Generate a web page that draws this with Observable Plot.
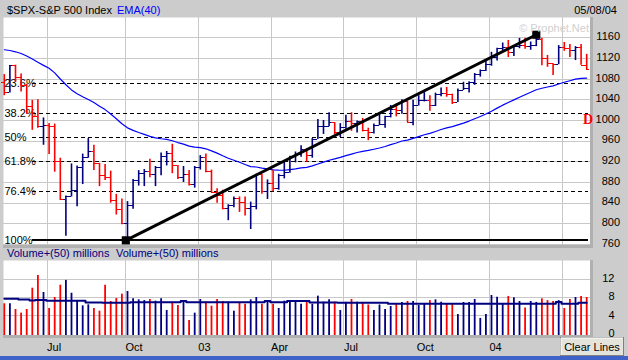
<!DOCTYPE html>
<html><head><meta charset="utf-8">
<script src="https://cdn.jsdelivr.net/npm/d3@7"></script>
<script src="https://cdn.jsdelivr.net/npm/@observablehq/plot@0.6"></script>
<style>
html,body{margin:0;padding:0;background:#cccccc;}
#wrap{position:relative;width:628px;height:360px;overflow:hidden;background:#cccccc;font-family:"Liberation Sans",Arial,sans-serif;}
#price,#vol,#over{position:absolute;left:0;}
#price{top:0;}
#vol{top:245px;}
#over{top:0;pointer-events:none;}
</style></head><body><div id="wrap"><div id="price"></div><div id="vol"></div>
<svg id="over" width="628" height="360" font-family="Liberation Sans, Arial, sans-serif" font-size="11">
<rect x="590" y="17" width="3" height="231" fill="#b0b0b0"/>
<rect x="3" y="245" width="590" height="3" fill="#b0b0b0"/>
<rect x="590" y="260" width="3" height="78" fill="#b0b0b0"/>
<rect x="3" y="335" width="590" height="3" fill="#b0b0b0"/>
<rect x="0" y="356" width="628" height="4" fill="#3f62c8"/>
<text x="7" y="14" fill="black">$SPX-S&amp;P 500 Index</text>
<text x="117" y="14" fill="#0000ff">EMA(40)</text>
<text x="617" y="14" text-anchor="end" fill="black">05/08/04</text>
<text x="589" y="32" text-anchor="end" fill="#d0d0d0">© Prophet.Net</text>
<text x="583" y="124" font-family="Liberation Serif, Times New Roman, serif" font-weight="bold" font-size="14" fill="#ff0000">D</text>
<text x="7" y="257" fill="#000080">Volume+(50) millions</text>
<text x="116" y="257" fill="#000080">Volume+(50) millions</text>
<rect x="560.5" y="337.5" width="63" height="18" fill="#e4e4dc" stroke="#808080"/>
<line x1="561" y1="338" x2="623" y2="338" stroke="white"/>
<line x1="561" y1="338" x2="561" y2="355" stroke="white"/>
<text x="592" y="351" text-anchor="middle" fill="black">Clear Lines</text>
</svg>
</div>
<script>
// ---- data (weekly bars, week index 0 = week of 2002-05-06) ----
const quarterStarts = [8, 22, 35, 48, 61, 74, 87, 100];
// the label of the last quarter line is hidden behind the "Clear Lines" button
const quarterLabels = ["Jul", "Oct", "03", "Apr", "Jul", "Oct", "04"];
const priceTicks = [760, 800, 840, 880, 920, 960, 1000, 1040, 1080, 1120, 1160];
const volTicks = [0, 4, 8, 12];
const volGrid = [4, 8, 12];

const open = [
1073.4,1055.0,1106.6,1083.8,1067.1,1027.5,1007.3,989.1,989.8,989.0,
921.4,847.8,852.8,864.2,908.6,928.8,940.9,916.1,893.9,889.8,
845.4,827.4,800.6,835.3,884.4,897.7,901.0,894.7,909.8,930.6,
936.3,912.2,889.5,895.8,875.4,908.6,927.6,901.8,861.4,855.7,
829.7,834.9,848.2,841.2,828.9,833.3,895.8,863.5,878.9,868.3,
893.6,898.8,930.1,933.4,944.3,933.2,963.6,987.8,988.6,995.7,
976.2,985.7,998.1,993.3,998.7,980.2,977.6,990.7,993.1,1008.0,
1021.4,1018.6,1036.3,996.9,1029.9,1038.1,1039.3,1028.9,1050.7,1053.2,
1050.4,1035.3,1058.2,1061.5,1074.1,1088.7,1095.9,1108.5,1121.9,1139.8,
1141.6,1131.1,1142.8,1145.8,1144.1,1144.9,1156.9,1120.6,1109.8,1108.1,
1141.8,1139.3,1134.6,1140.6,1107.3];
const high = [
1088.9,1106.6,1107.0,1090.0,1070.0,1039.0,1040.0,1005.0,994.0,993.0,
927.0,854.0,916.0,912.0,935.0,965.0,952.0,917.0,915.0,902.0,
857.0,848.0,843.0,886.0,903.0,905.0,925.0,911.0,937.0,940.0,
954.0,913.0,911.0,903.0,911.0,932.0,935.0,904.0,868.0,865.0,
837.0,852.0,852.0,852.0,842.0,896.0,896.0,885.0,904.0,896.0,
922.0,931.0,939.0,951.0,945.0,965.0,1002.0,1000.0,1015.0,996.0,
994.0,1010.0,1015.0,999.0,1004.0,985.0,993.0,1011.0,1008.0,1029.0,
1032.0,1040.0,1037.0,1039.0,1048.0,1054.0,1048.0,1053.0,1063.0,1064.0,
1051.0,1061.0,1074.0,1075.0,1091.0,1098.0,1118.0,1132.0,1140.0,1150.0,
1155.0,1143.0,1159.0,1159.0,1152.0,1163.0,1159.0,1126.0,1110.0,1145.0,
1151.0,1147.0,1143.0,1147.0,1128.0];
const low = [
1048.0,1053.0,1074.0,1055.0,1012.0,981.0,985.0,952.0,934.0,900.0,
845.0,775.7,852.0,833.0,876.0,927.0,903.0,872.0,884.0,840.0,
817.0,798.0,768.6,828.0,873.0,872.0,889.0,872.0,893.0,912.0,
897.0,886.0,880.0,873.0,869.0,904.0,899.0,860.0,840.0,827.0,
806.0,831.0,822.0,815.0,789.0,827.0,857.0,847.0,862.0,865.0,
887.0,898.0,918.0,929.0,919.0,927.0,963.0,973.0,988.0,973.0,
967.0,983.0,979.0,976.0,978.0,961.0,974.0,990.0,985.0,1005.0,
1007.0,1012.0,996.0,990.0,1028.0,1036.0,1018.0,1027.0,1046.0,1045.0,
1031.0,1035.0,1058.0,1053.0,1068.0,1084.0,1095.0,1105.0,1115.0,1133.0,
1122.0,1124.0,1139.0,1138.0,1136.0,1143.0,1106.0,1103.0,1087.0,1108.0,
1134.0,1122.0,1116.0,1107.0,1098.0];
const close = [
1055.0,1106.6,1083.8,1067.1,1027.5,1007.3,989.1,989.8,989.0,921.4,
847.8,852.8,864.2,908.6,928.8,940.9,916.1,893.9,889.8,845.4,
827.4,800.6,835.3,884.4,897.7,901.0,894.7,909.8,930.6,936.3,
912.2,889.5,895.8,875.4,908.6,927.6,901.8,861.4,855.7,829.7,
834.9,848.2,841.2,828.9,833.3,895.8,863.5,878.9,868.3,893.6,
898.8,930.1,933.4,944.3,933.2,963.6,987.8,988.6,995.7,976.2,
985.7,998.1,993.3,998.7,980.2,977.6,990.7,993.1,1008.0,1021.4,
1018.6,1036.3,996.9,1029.9,1038.1,1039.3,1028.9,1050.7,1053.2,1050.4,
1035.3,1058.2,1061.5,1074.1,1088.7,1095.9,1108.5,1121.9,1139.8,1141.6,
1131.1,1142.8,1145.8,1144.1,1144.9,1156.9,1120.6,1109.8,1108.1,1141.8,
1139.3,1134.6,1140.6,1107.3,1098.7];
const ema40 = [
1137.0,1135.5,1133.0,1129.8,1124.8,1119.1,1112.7,1106.7,1101.0,1092.2,
1080.3,1069.2,1059.2,1051.9,1045.9,1040.7,1034.7,1027.8,1021.1,1012.5,
1003.5,993.6,985.8,980.9,976.8,973.1,969.3,966.4,964.7,963.3,
960.8,957.3,954.3,950.4,948.4,947.4,945.2,941.1,936.9,931.7,
927.0,923.1,919.1,914.7,910.7,910.0,907.7,906.3,904.5,903.9,
903.7,905.0,906.3,908.2,909.4,912.1,915.8,919.3,923.0,925.6,
928.6,932.0,935.0,938.1,940.1,942.0,944.3,946.7,949.7,953.2,
956.4,960.3,962.1,965.4,968.9,972.4,975.1,978.8,982.5,985.8,
988.2,991.6,995.0,998.9,1003.3,1007.8,1012.7,1018.0,1024.0,1029.7,
1034.7,1039.9,1045.1,1049.9,1054.6,1059.6,1062.5,1064.8,1067.0,1070.6,
1074.0,1076.9,1080.0,1081.4,1082.2];
const volume = [
6.6,6.6,5.35,4.55,5.35,10.0,12.8,9.06,5.57,7.97,
10.66,11.7,8.9,7.3,6.15,6.37,5.57,4.98,10.66,7.1,
7.75,8.7,9.28,7.68,7.46,7.3,7.53,7.17,7.68,5.13,
6.95,6.22,7.17,2.95,4.55,7.53,6.95,6.07,7.53,7.1,
6.95,4.98,6.73,6.5,7.46,7.97,6.5,6.95,6.5,5.57,
7.17,7.3,7.3,6.5,6.88,6.5,8.26,6.95,7.46,6.95,
5.13,6.9,7.53,6.95,6.9,6.33,5.13,6.33,5.35,6.0,
6.6,6.88,7.1,7.1,6.22,6.6,7.3,7.46,6.95,6.6,
6.6,4.26,6.88,6.88,7.53,3.4,4.26,8.4,8.04,6.6,
8.2,7.9,7.1,5.7,7.1,6.9,7.68,7.3,7.1,7.3,
5.57,7.53,7.97,8.2,7.97];
const volMA50 = [
7.7,7.7,7.7,7.55,7.55,7.3,7.45,7.45,7.25,7.25,
7.25,7.25,7.25,7.25,7.25,6.9,6.9,6.9,6.8,6.8,
6.8,6.8,6.8,6.95,6.95,6.95,6.95,6.95,6.95,6.95,
6.95,6.95,7.2,6.95,6.95,6.95,6.95,6.95,6.95,6.95,
6.95,6.95,6.95,6.95,6.95,6.95,6.95,7.2,6.95,6.95,
6.95,7.2,7.2,7.2,7.2,6.9,6.9,6.9,6.9,6.9,
6.8,6.8,6.8,6.8,6.8,6.8,6.8,6.8,6.8,6.6,
6.6,6.6,6.6,6.6,6.6,6.6,6.6,6.6,6.6,6.6,
6.6,6.6,6.6,6.6,6.6,6.6,6.6,6.6,6.6,6.6,
6.6,6.6,6.6,6.6,6.6,6.6,6.6,6.6,6.6,7.0,
6.6,6.6,6.6,6.8,6.8];

// Fibonacci retracement between the drawn low and high
const fibLow = 768, fibHigh = 1166;
const fibRatios = [0.236, 0.382, 0.5, 0.618, 0.764, 1];
const fibLabels = ["23.6%", "38.2%", "50%", "61.8%", "76.4%", "100%"];
// trend line anchors (week index, price)
const trendWeeks = [21.7, 95];
const trendPrices = [768, 1166];

// ---- build tables ----
const bars = close.map((c, i) => ({i, o: open[i], h: high[i], l: low[i], c, ema: ema40[i], v: volume[i], ma: volMA50[i], up: c >= open[i]}));
const upBars = bars.filter(d => d.up), downBars = bars.filter(d => !d.up);
const fib = fibRatios.map((r, k) => ({r, label: fibLabels[k], price: fibHigh - r * (fibHigh - fibLow)}));
const trendPts = trendWeeks.map((w, k) => ({w, p: trendPrices[k]}));
const labelled = quarterStarts.slice(0, quarterLabels.length);
const NAVY = "#000080", RED = "#ff0000", GRID = "#c8c8c8";

const xDomain = [-0.143, 104.68];
const common = {
  width: 628, marginLeft: 3, marginRight: 38,
  x: {domain: xDomain, axis: null},
  style: {background: "transparent", fontFamily: "Liberation Sans, Arial, sans-serif", fontSize: "11px", overflow: "visible", color: "black"}
};

function ohlc(data, color) {
  return [
    Plot.ruleX(data, {x: "i", y1: "l", y2: "h", stroke: color, strokeWidth: 1.6}),
    Plot.ruleY(data, {y: "o", x1: "i", x2: "i", insetLeft: -2.8, stroke: color, strokeWidth: 1, shapeRendering: "crispEdges"}),
    Plot.ruleY(data, {y: "c", x1: "i", x2: "i", insetRight: -2.8, stroke: color, strokeWidth: 1, shapeRendering: "crispEdges"})
  ];
}

const pricePlot = Plot.plot({
  ...common,
  height: 245, marginTop: 17, marginBottom: 0,
  y: {domain: [758, 1199.4], axis: null},
  marks: [
    Plot.frame({fill: "white", stroke: null}),
    Plot.ruleY(priceTicks, {stroke: GRID, shapeRendering: "crispEdges"}),
    Plot.ruleX(quarterStarts, {dx: -2, stroke: GRID, shapeRendering: "crispEdges"}),
    Plot.ruleY(fib.filter(d => d.r < 1), {y: "price", insetLeft: 29, insetRight: 2, stroke: "black", strokeDasharray: "4,3", shapeRendering: "crispEdges"}),
    Plot.ruleY(fib.filter(d => d.r === 1), {y: "price", insetLeft: 29, insetRight: 2, stroke: "black", strokeWidth: 2, shapeRendering: "crispEdges"}),
    Plot.text(fib, {y: "price", text: "label", frameAnchor: "left", dx: 1, textAnchor: "start", lineAnchor: "middle", fill: "black"}),
    Plot.line(bars, {x: "i", y: "ema", stroke: "#0000ff", strokeWidth: 1.2}),
    ...ohlc(upBars, NAVY),
    ...ohlc(downBars, RED),
    Plot.line(trendPts, {x: "w", y: "p", stroke: "black", strokeWidth: 3}),
    Plot.dot(trendPts, {x: "w", y: "p", symbol: "square", r: 4.6, fill: "black", stroke: null}),
    Plot.text(priceTicks, {y: d => d, text: d => String(d), frameAnchor: "right", dx: 29.5, dy: -1.2, textAnchor: "end", lineAnchor: "middle", fill: "black"})
  ]
});
document.getElementById("price").appendChild(pricePlot);

const volBase = -0.33;
const volPlot = Plot.plot({
  ...common,
  height: 115, marginTop: 15, marginBottom: 25,
  y: {domain: [volBase, 16.05], axis: null},
  marks: [
    Plot.frame({fill: "white", stroke: null}),
    Plot.ruleY(volGrid, {stroke: GRID, shapeRendering: "crispEdges"}),
    Plot.ruleX(quarterStarts, {dx: -2, stroke: GRID, shapeRendering: "crispEdges"}),
    Plot.ruleX(upBars, {x: "i", y1: volBase, y2: "v", stroke: NAVY, strokeWidth: 1.8}),
    Plot.ruleX(downBars, {x: "i", y1: volBase, y2: "v", stroke: RED, strokeWidth: 1.8}),
    Plot.line(bars, {x: "i", y: "ma", curve: "step", stroke: NAVY, strokeWidth: 2}),
    Plot.text(volTicks, {y: d => d, text: d => String(d), frameAnchor: "right", dx: 24, dy: -0.5, textAnchor: "end", lineAnchor: "middle", fill: "black"}),
    Plot.text(labelled, {x: d => d, text: (d, k) => quarterLabels[k], frameAnchor: "bottom", dx: -2, dy: 15, textAnchor: "start", lineAnchor: "bottom", fill: "black"})
  ]
});
document.getElementById("vol").appendChild(volPlot);
</script>
</body></html>
